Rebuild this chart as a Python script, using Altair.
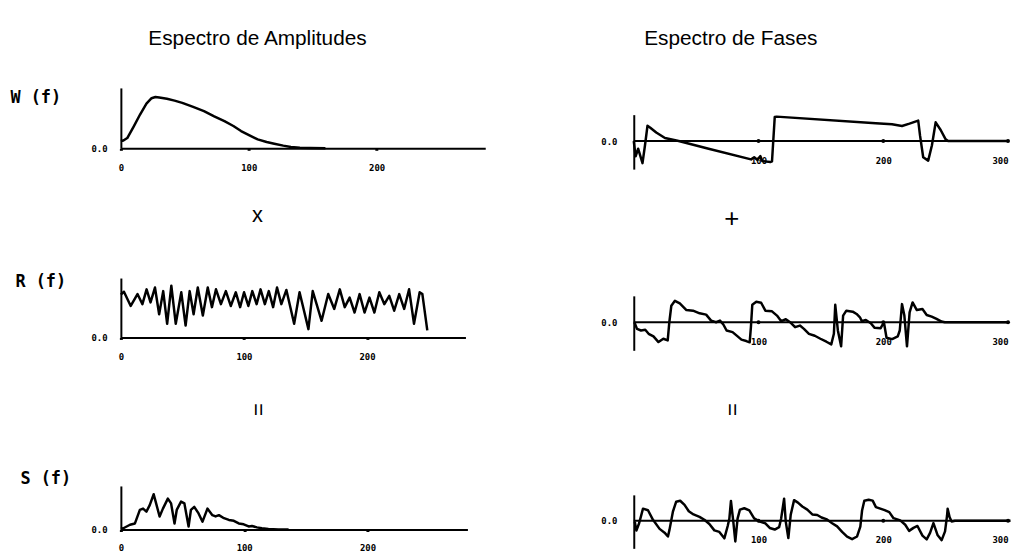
import altair as alt
import pandas as pd

TITLE_AMP = "Espectro de Amplitudes"
TITLE_PHASE = "Espectro de Fases"
OP_TIMES = "x"
OP_PLUS = "+"
OP_EQUALS = "="
AMP_LABELS = ["W (f)", "R (f)", "S (f)"]
ZERO_LABEL = "0.0"
AMP_TICKS = [0, 100, 200]
PHASE_TICKS = [100, 200, 300]

# --- amplitude spectra (frequency, relative amplitude) ---
w_amp_f = [0, 2, 5, 10, 15, 20, 24, 27, 30, 36, 42, 48, 56, 65, 73, 81, 88, 94,
           101, 107, 114, 120, 127, 133, 140, 148, 160]
w_amp_v = [0.12, 0.13, 0.17, 0.36, 0.56, 0.74, 0.83, 0.85, 0.84, 0.82, 0.79, 0.753,
           0.69, 0.615, 0.53, 0.45, 0.37, 0.286, 0.21, 0.148, 0.105, 0.077, 0.045,
           0.022, 0.01, 0.004, 0.0]

r_amp_f = [0, 2.5, 8.0, 13.5, 17.5, 20.9, 24.1, 27.7, 31.1, 34.4, 37.6, 41.0, 44.6,
           49.1, 52.6, 55.9, 59.1, 62.5, 66.6, 70.6, 74.0, 77.3, 81.3, 85.3, 89.3,
           93.4, 96.9, 100.1, 103.6, 106.8, 110.3, 113.5, 117.0, 120.2, 123.7, 126.9,
           130.4, 134.5, 140.8, 145.2, 152.4, 155.9, 163.1, 168.5, 173.4, 177.9, 181.9,
           185.9, 189.9, 194.0, 198.0, 202.0, 206.0, 210.0, 214.1, 218.1, 222.1, 226.2,
           230.2, 234.2, 238.2, 242.8, 245.0, 249.0]
r_amp_v = [0.72, 0.77, 0.53, 0.73, 0.56, 0.81, 0.59, 0.84, 0.39, 0.78, 0.23, 0.87, 0.23,
           0.76, 0.20, 0.78, 0.39, 0.84, 0.37, 0.84, 0.51, 0.81, 0.56, 0.78, 0.53,
           0.76, 0.51, 0.76, 0.53, 0.78, 0.56, 0.81, 0.56, 0.78, 0.51, 0.84,
           0.56, 0.80, 0.23, 0.76, 0.14, 0.78, 0.28, 0.73, 0.48, 0.81, 0.51,
           0.67, 0.42, 0.73, 0.42, 0.67, 0.42, 0.76, 0.56, 0.70, 0.45, 0.73,
           0.48, 0.81, 0.23, 0.76, 0.73, 0.12]

s_amp_f = [0, 2, 7.4, 11.4, 15.4, 18, 20.7, 23.4, 26.6, 28.2, 31.4, 34.1, 38.1, 40.7,
           43.5, 45.3, 48.8, 51.5, 54.9, 56.8, 59.5, 63, 66.2, 70.2, 74.2, 76.8, 79.5,
           83.6, 87.6, 91.6, 95.6, 99.6, 103.6, 106.3, 110.3, 114.3, 119.6, 127.7, 136]
s_amp_v = [0.02, 0.03, 0.11, 0.14, 0.45, 0.48, 0.41, 0.56, 0.81, 0.64, 0.30, 0.48, 0.71,
           0.60, 0.14, 0.45, 0.64, 0.60, 0.07, 0.45, 0.52, 0.37, 0.18, 0.48, 0.33, 0.30,
           0.33, 0.26, 0.22, 0.20, 0.14, 0.12, 0.07, 0.08, 0.05, 0.03, 0.01, 0.0, 0.0]

# --- phase spectra (frequency, phase in radians) ---
w_ph_f = [0, 1.5, 3.5, 7, 9, 11, 13, 18, 25, 36, 60, 94, 96.5, 99, 101.5, 103, 109.5,
          110.8, 113, 114.5, 194, 207, 215, 221, 228, 229.5, 232, 236, 239, 242, 246,
          250, 252, 300]
w_ph_v = [0, -1.8, -0.9, -2.6, -0.5, 1.8, 1.6, 1.0, 0.35, 0, -0.9, -2.16, -1.9, -2.2,
          -1.77, -2.36, -2.47, -2.4, 2.83, 2.87, 2.08, 1.97, 1.77, 2.04, 2.4, 0.6, -1.9,
          -2.3, -0.5, 2.2, 1.3, 0.2, 0, 0]

r_ph_f = [0.5, 2.6, 5.8, 9.2, 11.9, 15.8, 19.8, 23.7, 27.2, 28.5, 30.1, 33, 36.9, 42.2,
          47.5, 52.8, 58, 62, 66, 69.1, 71.8, 74.4, 79.2, 82.3, 86.3, 90.2, 92.9, 93.9,
          95, 98.2, 102.1, 105.5, 110.8, 114.8, 118.2, 121.9, 125.3, 129.3, 133.2,
          136.4, 140.4, 145.1, 149.6, 154.4, 158.3, 160.4, 161.5, 163.6, 166.2, 167.8,
          170.4, 175.5, 178.6, 181.3, 182.8, 186, 190, 193.1, 197.9, 200.5, 202.6,
          207.1, 211.6, 213.2, 215, 216.9, 219, 221.1, 223.5, 226.9, 231.4, 234.8,
          238.8, 242.7, 246.7, 249.3, 300]
r_ph_v = [0, -0.78, -0.97, -0.89, -1.36, -1.67, -2.33, -1.94, -2.13, 0, 1.94, 2.52, 2.21,
          1.43, 1.36, 1.05, 0.89, 0.19, 0, 0.19, -0.27, -0.97, -1.16, -1.55, -2.05, -2.21,
          -2.36, -0.58, 2.05, 2.4, 2.29, 1.36, 1.28, 0.78, 0.12, 0.35, 0, -0.58, -0.39,
          -0.78, -1.36, -1.59, -1.94, -2.29, -2.6, -1.36, 2.05, -0.97, -2.83, 0.78,
          1.36, 1.24, 0.97, 0.58, 0.12, 0.27, -0.12, -0.66, -0.7, 0, -1.82,
          -1.98, -1.67, -0.97, 2.13, 0.78, -2.83, 1.16, 2.33, 1.43, 1.55, 0.85,
          0.66, 0.39, 0.08, 0, 0]

s_ph_f = [0.8, 2.1, 4.3, 7.4, 11.4, 15.4, 20.7, 24.7, 27.4, 28.7, 31.4, 34, 37.2, 40.7,
          44.1, 47.9, 52.7, 56.6, 60.6, 64.6, 68.6, 72.6, 75.3, 76.6, 77.9, 79.8, 81.4,
          83.2, 85.1, 88.6, 92.6, 96.5, 101.1, 105.3, 109, 113, 116.5, 118.1, 120.5,
          121.8, 123.9, 125.8, 128.5, 131.6, 135.1, 139.1, 143.1, 147.1, 150.5, 154.3,
          159, 163, 167, 171, 175, 179, 181.6, 183, 184.8, 188.3, 191.5, 194.1, 197.6,
          201.1, 204.8, 208.2, 213.6, 217.6, 220.7, 224.2, 227.4, 231.4, 234.8, 237.5,
          240.2, 243.6, 246.8, 249.5, 251.1, 251.6, 253.2, 254.8, 257.4, 302]
s_ph_v = [-0.11, -1.16, -0.3, 1.45, 1.26, 0.11, -0.97, -1.42, -1.88, -1.03, 1.11, 2.28,
          2.4, 1.91, 1.14, 0.76, 0.46, 0.12, -0.38, -1.15, -1.33, -2.1, -0.62, 0.24, 2.37,
          -0.14, -2.47, 0.25, 1.34, 1.5, 1.24, 0.28, -0.1, -0.29, -0.86, -1.05, -0.77,
          0.24, 2.65, -0.06, -2.07, 0.72, 2.47, 2.17, 1.71, 1.33, 0.76, 0.69, 0.39, 0.2,
          -0.29, -0.67, -1.32, -1.9, -2.2, -1.88, -0.71, 1.23, 2.4, 2.52, 2.41, 1.64,
          1.45, 1.27, 1.04, 0.31, 0.05, -0.48, -1.21, -0.85, -0.62, -1.77, -2.23, -1.45,
          -0.28, -1.74, -2.32, -1.27, 0.6, 1.45, 0.41, -0.09, 0, 0]

TEXT_FONT = "Liberation Sans"
LABEL_FONT = "DejaVu Sans Mono"
INK = "black"
LW = 2.5


def text_view(txt, w, h, x, y, size, angle=0):
    df = pd.DataFrame({"t": [txt]})
    return (
        alt.Chart(df)
        .mark_text(font=TEXT_FONT, fontSize=size, color=INK, align="center",
                   baseline="middle", angle=angle)
        .encode(text="t:N", x=alt.value(x), y=alt.value(y))
        .properties(width=w, height=h)
    )


def label_axis(**kw):
    base = dict(grid=False, labelFont=LABEL_FONT, labelFontWeight="bold",
                labelFontSize=9, labelColor=INK, domainColor=INK, domainWidth=2,
                labelOverlap=False)
    base.update(kw)
    return alt.Axis(**base)


def amp_view(f, v, xmax, w, h, label, tx, ty, lpad=13):
    df = pd.DataFrame({"f": f, "v": v, "i": list(range(len(f)))})
    x = alt.X("f:Q", scale=alt.Scale(domain=[0, xmax], nice=False, zero=False),
              axis=label_axis(values=AMP_TICKS, title=None, ticks=True, tickSize=2,
                              tickWidth=3, tickColor=INK, labelPadding=lpad,
                              labelFlush=False))
    y = alt.Y("v:Q", scale=alt.Scale(domain=[0, 1], nice=False, zero=False),
              axis=label_axis(values=[0], labelExpr="'" + ZERO_LABEL + "'", ticks=False,
                              labelPadding=14, title=label, titleAngle=0, titleX=tx,
                              titleY=ty, titleAlign="left", titleBaseline="middle",
                              titleFont=LABEL_FONT, titleFontSize=17,
                              titleFontWeight="bold", titleColor=INK))
    return (
        alt.Chart(df)
        .mark_line(color=INK, strokeWidth=LW, clip=False, strokeJoin="round")
        .encode(x=x, y=y, order="i:Q")
        .properties(width=w, height=h)
    )


def phase_view(f, v, w, h):
    df = pd.DataFrame({"f": f, "v": v, "i": list(range(len(f)))})
    x = alt.X("f:Q", scale=alt.Scale(domain=[0, 300], nice=False, zero=False),
              axis=label_axis(values=PHASE_TICKS, title=None, domain=False, ticks=False,
                              labelPadding=-13, labelFlush=True))
    y = alt.Y("v:Q", scale=alt.Scale(domain=[-3.3, 3.1], nice=False, zero=False),
              axis=label_axis(values=[0], labelExpr="'" + ZERO_LABEL + "'", ticks=False,
                              labelPadding=17, title=None))
    base_df = pd.DataFrame({"f": [0], "f2": [300], "v": [0]})
    base = alt.Chart(base_df).mark_rule(color=INK, strokeWidth=2).encode(
        x=x, x2=alt.X2("f2"), y=y)
    dots_df = pd.DataFrame({"f": PHASE_TICKS, "v": [0] * len(PHASE_TICKS)})
    dots = alt.Chart(dots_df).mark_point(filled=True, color=INK, size=16, opacity=1).encode(
        x=x, y=y)
    line = alt.Chart(df).mark_line(color=INK, strokeWidth=LW, clip=False,
                                   strokeJoin="round").encode(x=x, y=y, order="i:Q")
    return alt.layer(base, dots, line).properties(width=w, height=h)


left = alt.vconcat(
    text_view(TITLE_AMP, 368, 78, 138, 29, 21),
    amp_view(w_amp_f, w_amp_v, 285, 368, 61, AMP_LABELS[0], -112, 10),
    text_view(OP_TIMES, 368, 131, 138, 67, 22),
    amp_view(r_amp_f, r_amp_v, 280, 348, 60, AMP_LABELS[1], -107, 4),
    text_view(OP_EQUALS, 368, 150, 138, 73, 22, angle=90),
    amp_view(s_amp_f, s_amp_v, 281, 350, 44, AMP_LABELS[2], -102, -7, lpad=12),
    spacing=0, bounds="flush",
)

right = alt.vconcat(
    text_view(TITLE_PHASE, 378, 105, 98, 29, 21),
    phase_view(w_ph_f, w_ph_v, 378, 55),
    text_view(OP_PLUS, 378, 128, 99, 50, 26),
    phase_view(r_ph_f, r_ph_v, 378, 55),
    text_view(OP_EQUALS, 378, 146, 99, 60, 22, angle=90),
    phase_view(s_ph_f, s_ph_v, 378, 54),
    spacing=0, bounds="flush",
)

chart = (
    alt.hconcat(left, right, spacing=518, bounds="flush",
                padding={"left": 2, "top": 0, "right": 0, "bottom": 0})
    .configure(background="white")
    .configure_view(strokeWidth=0, stroke="transparent")
)

chart.save("out.html", embed_options={"renderer": "svg", "actions": False})
